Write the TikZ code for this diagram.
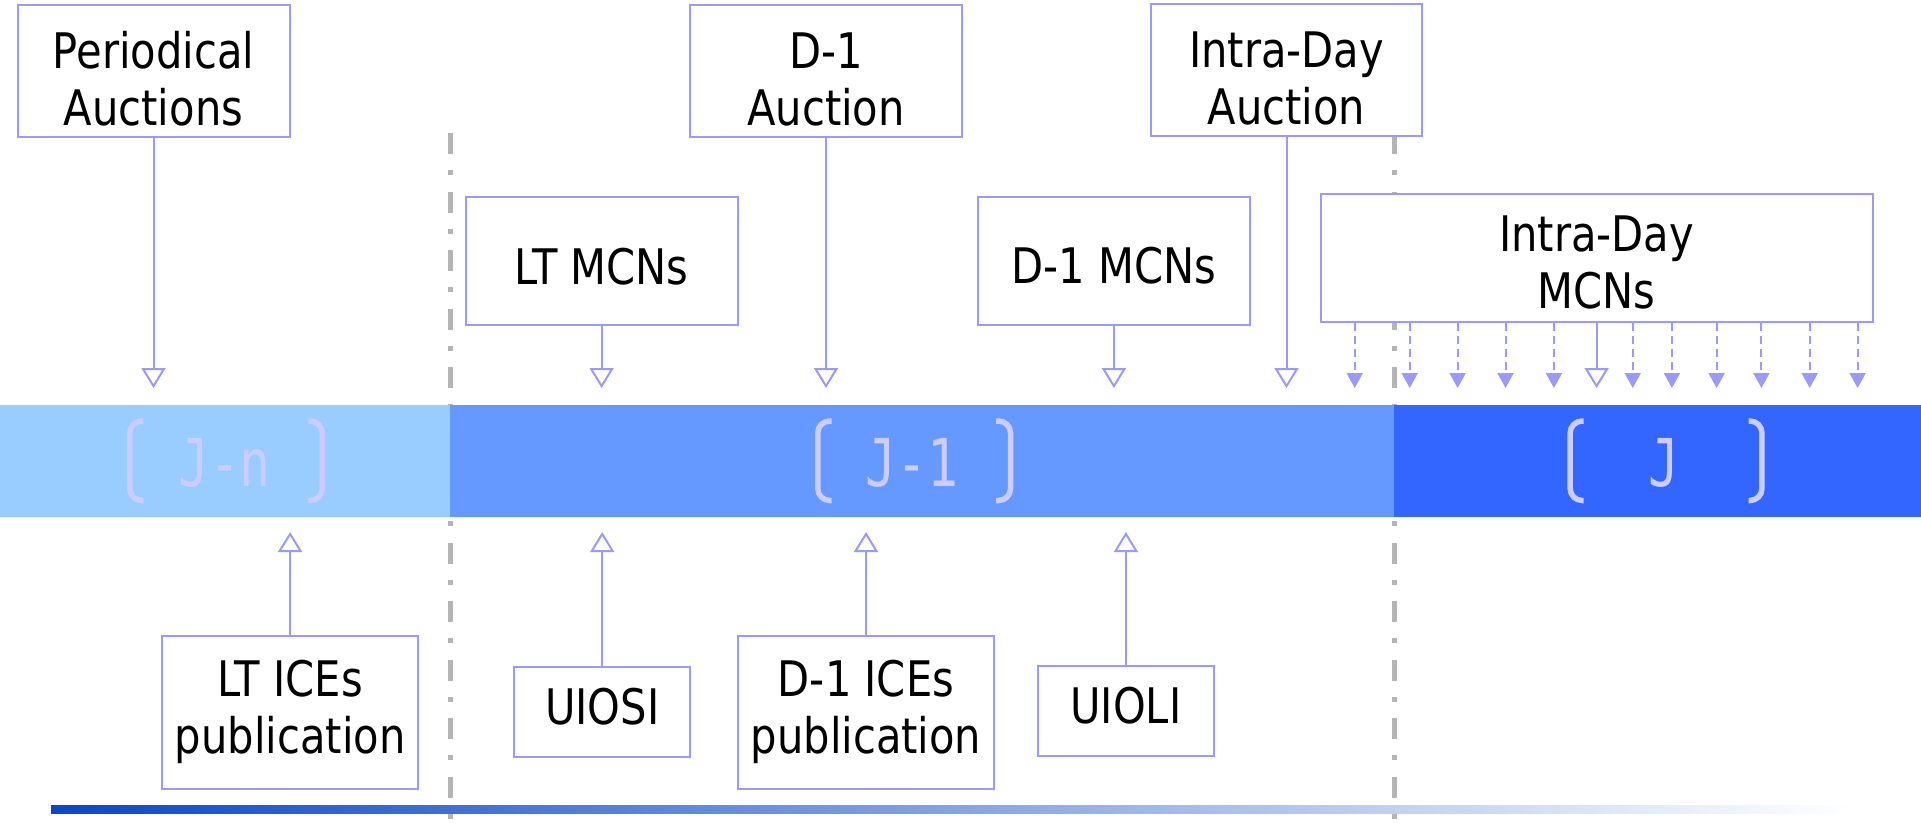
\documentclass[tikz,border=0pt]{standalone}
\usepackage{fontspec}
\setmainfont{DejaVu Sans}[FakeStretch=0.85]
\newfontfamily\bandfont{DejaVu Sans Mono}[FakeStretch=0.78]
\usetikzlibrary{arrows.meta}
\definecolor{lineblue}{RGB}{153,153,255}
\definecolor{bandA}{RGB}{153,204,255}
\definecolor{bandB}{RGB}{102,153,255}
\definecolor{bandC}{RGB}{51,102,255}
\definecolor{bandtext}{RGB}{204,204,255}
\definecolor{sepgray}{RGB}{180,180,180}
\definecolor{gradA}{RGB}{10,71,200}
\definecolor{gradB}{RGB}{168,172,222}
\newcommand\twoline[2]{\begin{tabular}[t]{@{}c@{}}#1\\#2\end{tabular}}
\begin{document}
\begin{tikzpicture}[x=1pt,y=-1pt,
  box/.style={draw=lineblue, line width=2pt, fill=white, rectangle, inner sep=0pt,
    font=\fontsize{49}{57}\selectfont},
  bsize/.style 2 args={minimum width=#1pt, minimum height=#2pt},
  tpos/.style 2 args={text height=#1pt, text depth=#2pt},
  openarrow/.style={draw=lineblue, line width=2pt, -{Triangle[open,length=20pt,width=24pt]}},
  dasharrow/.style={draw=lineblue, line width=2pt, dash pattern=on 8pt off 5pt,
    -{Triangle[length=15pt,width=16pt]}},
  sepline/.style={draw=sepgray, line width=5pt, dash pattern=on 21pt off 16pt on 5pt off 16.5pt},
  bandlbl/.style={font=\bandfont\fontsize{66}{66}\selectfont, text=bandtext, anchor=base, inner sep=0pt},
  brk/.style={draw=bandtext, line width=5.5pt, rounded corners=12pt}
]
\useasboundingbox (0,0) rectangle (1921,823);

% separators
\draw[sepline] (450,133) -- (450,823);
\draw[sepline] (1394,133) -- (1394,823);

% time band
\fill[bandA] (0,405) rectangle (450,517);
\fill[bandB] (450,405) rectangle (1394,517);
\fill[bandC] (1394,405) rectangle (1921,517);

% band brackets
\draw[brk] (143.3,421) -- (129.75,421) -- (129.75,500.5) -- (143.3,500.5);
\draw[brk] (308.3,421) -- (322.25,421) -- (322.25,500.5) -- (308.3,500.5);
\draw[brk] (831.7,421) -- (817.75,421) -- (817.75,500.5) -- (831.7,500.5);
\draw[brk] (996,421) -- (1010.55,421) -- (1010.55,500.5) -- (996,500.5);
\draw[brk] (1583.6,421) -- (1570.15,421) -- (1570.15,500.5) -- (1583.6,500.5);
\draw[brk] (1748.5,421) -- (1761.95,421) -- (1761.95,500.5) -- (1748.5,500.5);

\node[bandlbl] (tjn) at (224.5,486) {J-n};
\node[bandlbl] (tj1) at (911.5,486) {J-1};
\node[bandlbl] (tj) at (1664,486) {J};

% gradient bar
\shade[left color=gradA, middle color=gradB, right color=white] (51,805) rectangle (1850,813);

% tip levels
\coordinate (toptip) at (0,388);
\coordinate (bottip) at (0,532);

% top boxes
\node[box, bsize={272}{132}, tpos={54.6}{60}] (per) at (153.5,71) {\twoline{Periodical}{Auctions}};
\node[box, bsize={272}{132}, tpos={54.6}{60}] (d1a) at (826,71) {\twoline{D-1}{Auction}};
\node[box, bsize={271}{132}, tpos={54.6}{60}] (ida) at (1286.5,70) {\twoline{Intra-Day}{Auction}};
\node[box, bsize={272}{128}, tpos={47}{0}] (ltm) at (601.6,260.5) {LT MCNs};
\node[box, bsize={272}{128}, tpos={46}{0}] (d1m) at (1113.9,260.5) {D-1 MCNs};
\node[box, bsize={552}{128}, tpos={47.4}{60}] (idm) at (1596.6,258) {\twoline{Intra-Day}{MCNs}};

% bottom boxes
\node[box, bsize={256.6}{153.3}, tpos={28.6}{60}] (lti) at (290.1,712.4) {\twoline{LT ICEs}{publication}};
\node[box, bsize={175.7}{90}, tpos={24}{0}] (uiosi) at (602.2,712) {UIOSI};
\node[box, bsize={256}{153.3}, tpos={28.6}{60}] (d1i) at (866,712.4) {\twoline{D-1 ICEs}{publication}};
\node[box, bsize={176.3}{90}, tpos={24.6}{0}] (uioli) at (1125.9,711) {UIOLI};

% down arrows
\foreach \n in {per,d1a,ida,ltm,d1m,idm}
  \draw[openarrow] (\n.south) -- (\n.south |- toptip);

% up arrows
\foreach \n in {lti,uiosi,d1i,uioli}
  \draw[openarrow] (\n.north) -- (\n.north |- bottip);

% dashed intra-day arrows
\foreach \x [count=\i] in {1354.7,1409.7,1457.6,1505.5,1553.9,1632.7,1671.9,1716.6,1761.4,1809.7,1857.6} {
  \coordinate (dx\i) at (\x,388);
  \draw[dasharrow] (dx\i |- idm.south) -- (dx\i);
}
\end{tikzpicture}
\end{document}
